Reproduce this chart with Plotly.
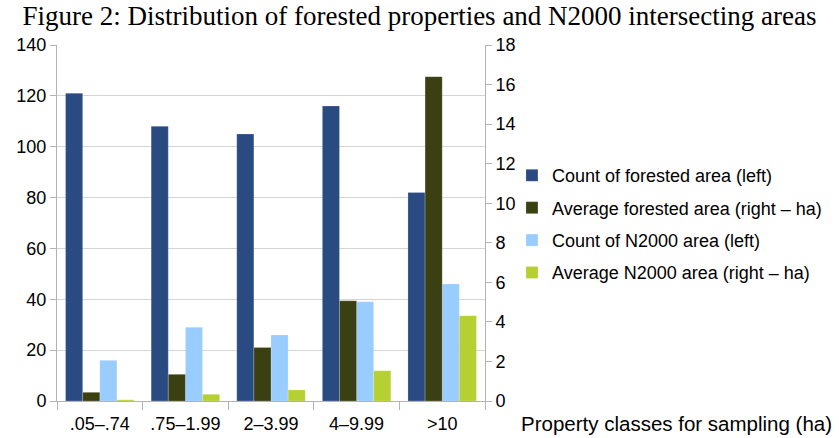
import plotly.graph_objects as go

categories = [".05–.74", ".75–1.99", "2–3.99", "4–9.99", ">10"]
count_forested = [121, 108, 105, 116, 82]
avg_forested = [0.44, 1.35, 2.71, 5.07, 16.4]
count_n2000 = [16, 29, 26, 39, 46]
avg_n2000 = [0.06, 0.34, 0.56, 1.53, 4.31]

series = [
    ("Count of forested area (left)", count_forested, "y", "#2a4a82"),
    ("Average forested area (right – ha)", avg_forested, "y2", "#3a4012"),
    ("Count of N2000 area (left)", count_n2000, "y", "#99ccff"),
    ("Average N2000 area (right – ha)", avg_n2000, "y2", "#b6cf33"),
]

fig = go.Figure()
bw = 0.2
for i, (name, vals, ax, col) in enumerate(series):
    fig.add_trace(go.Bar(
        x=categories, y=vals, name=name, yaxis=ax, legendgroup=f"g{i}",
        width=bw, offset=-0.4 + i * bw,
        marker=dict(color=col, line=dict(color="rgba(255,255,255,0.35)", width=0.6)),
    ))

font_sans = "Liberation Sans, Arial, sans-serif"
fig.update_layout(
    width=839, height=438,
    margin=dict(l=57, r=354, t=45, b=37),
    paper_bgcolor="white", plot_bgcolor="white",
    barmode="overlay",
    font=dict(family=font_sans, size=18, color="black"),
    title=dict(text="Figure 2: Distribution of forested properties and N2000 intersecting areas",
               font=dict(family="Liberation Serif, Times New Roman, serif", size=27, color="black"),
               x=0.5, xanchor="center", y=0.985, yanchor="top", automargin=False),
    xaxis=dict(type="category", tickson="boundaries", ticks="outside", ticklen=8,
               tickcolor="#b3b3b3", showline=True, linecolor="#b3b3b3",
               showgrid=False, tickfont=dict(size=18), range=[-0.5, 4.5],
               ticklabelstandoff=6, automargin=False),
    yaxis=dict(range=[0, 140], dtick=20, showgrid=True, gridcolor="#d4d4d4",
               ticks="outside", ticklen=6, tickcolor="#b3b3b3",
               showline=True, linecolor="#b3b3b3", zeroline=False,
               tickfont=dict(size=18), automargin=False),
    yaxis2=dict(range=[0, 18], dtick=2, overlaying="y", side="right", showgrid=False,
                ticks="outside", ticklen=6, tickcolor="#b3b3b3",
                showline=True, linecolor="#b3b3b3", zeroline=False,
                tickfont=dict(size=18), automargin=False),
    legend=dict(x=1.063, xanchor="left", y=0.497, yanchor="middle",
                font=dict(size=18), tracegroupgap=6, itemwidth=30,
                bgcolor="rgba(0,0,0,0)"),
    annotations=[dict(text="Property classes for sampling (ha)", xref="paper", yref="paper",
                      x=1.08, y=-0.062, xanchor="left", yanchor="middle",
                      showarrow=False, font=dict(size=20.5))],
)

fig.write_html("out.html", config={"displayModeBar": False},
               post_script="document.body.style.margin='0';document.body.style.overflow='hidden';")
